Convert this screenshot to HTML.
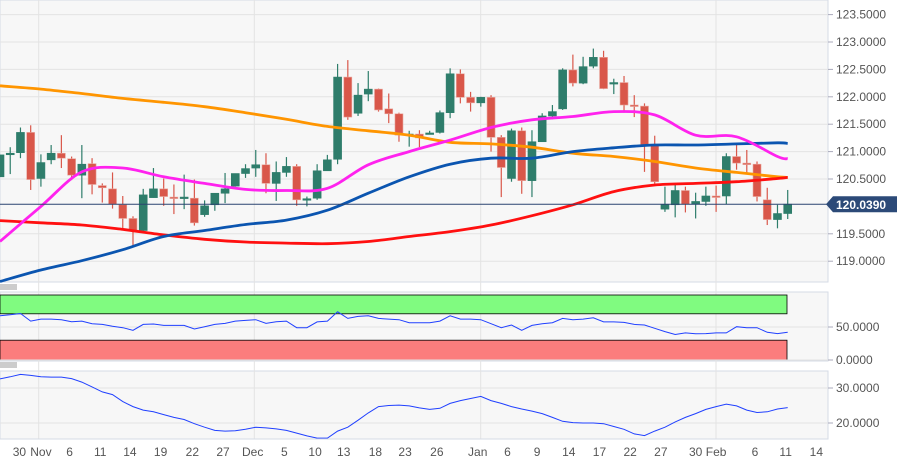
<!DOCTYPE html>
<html><head><meta charset="utf-8"><style>
body{margin:0;background:#fff;}
svg{display:block;font-family:"Liberation Sans",sans-serif;}
</style></head><body>
<svg id="chart" width="897" height="472" viewBox="0 0 897 472" xmlns="http://www.w3.org/2000/svg"></svg>
<script>
const opens=[120.54,120.97,120.98,121.35,120.51,120.85,120.97,120.87,120.57,120.78,120.38,120.32,120.03,119.78,119.56,120.16,120.32,120.17,120.17,120.15,119.85,120.03,120.24,120.37,120.60,120.70,120.76,120.42,120.62,120.73,120.14,120.15,120.65,120.86,122.36,121.70,122.05,122.14,121.78,121.69,121.32,121.32,121.34,121.35,121.71,122.42,121.99,121.89,121.99,121.26,120.51,121.38,120.47,121.18,121.65,121.78,122.49,122.25,122.56,122.72,122.26,122.26,121.85,121.83,121.12,119.95,120.03,120.29,120.04,120.09,120.19,120.19,120.91,120.79,120.77,120.12,119.76,119.87];
const closes=[120.94,120.97,121.35,120.49,120.80,120.97,120.88,120.57,120.77,120.40,120.34,120.04,119.78,119.56,120.21,120.32,120.18,120.16,120.17,119.70,120.01,120.24,120.32,120.60,120.69,120.76,120.42,120.62,120.73,120.12,120.14,120.65,120.85,122.36,121.63,122.03,122.14,121.76,121.69,121.30,121.32,121.25,121.34,121.71,122.42,121.99,121.89,121.99,121.26,120.71,121.38,120.47,121.18,121.65,121.73,122.49,122.25,122.55,122.72,122.15,122.26,121.85,121.83,121.12,120.45,120.03,120.29,120.04,120.09,120.19,120.18,120.91,120.79,120.77,120.18,119.76,119.87,120.04];
const highs=[120.94,121.08,121.44,121.48,120.95,121.12,121.30,120.91,121.12,120.88,120.42,120.62,120.19,119.82,120.32,120.70,120.51,120.40,120.58,120.49,120.11,120.24,120.61,120.60,120.77,121.03,120.97,120.82,120.90,120.77,120.18,120.77,120.94,122.60,122.67,122.25,122.47,122.15,122.06,121.71,121.38,121.39,121.38,121.75,122.52,122.50,122.09,122.00,122.03,121.30,121.42,121.44,121.39,121.70,121.85,122.52,122.77,122.73,122.88,122.84,122.33,122.38,122.03,121.88,121.29,120.36,120.41,120.36,120.25,120.36,120.38,120.97,121.13,121.03,120.82,120.34,120.03,120.30];
const lows=[120.54,120.59,120.88,120.30,120.36,120.77,120.70,120.48,120.15,120.22,120.07,119.96,119.59,119.26,119.54,120.16,120.01,119.86,119.95,119.65,119.81,119.92,120.06,120.36,120.52,120.54,120.24,120.10,120.54,120.01,120.00,120.12,120.77,120.77,121.58,121.65,121.92,121.73,121.52,121.18,121.09,121.08,121.32,121.33,121.61,121.88,121.73,121.82,121.00,120.17,120.45,120.23,120.17,121.18,121.59,121.76,122.19,122.23,122.52,122.14,122.05,121.71,121.63,120.63,120.41,119.90,119.80,119.89,119.78,120.01,119.90,120.04,120.67,120.60,120.09,119.66,119.60,119.77];
const maIndex=[1,5,9,13,17,21,25,29,33,37,41,45,49,53,57,61,65,69,73,77,78];
const ma200=[122.20,122.14,122.06,121.97,121.90,121.82,121.71,121.59,121.46,121.38,121.30,121.17,121.14,121.08,120.97,120.91,120.82,120.70,120.62,120.54,120.53];
const ma100=[119.74,119.70,119.66,119.58,119.48,119.40,119.35,119.33,119.32,119.36,119.45,119.54,119.66,119.83,120.03,120.27,120.39,120.42,120.45,120.51,120.53];
const ma50=[118.63,118.84,119.01,119.21,119.45,119.56,119.67,119.75,119.93,120.24,120.54,120.77,120.88,120.88,121.00,121.07,121.12,121.12,121.14,121.16,121.15];
const ma20=[119.36,120.00,120.63,120.70,120.54,120.42,120.31,120.29,120.33,120.76,121.00,121.21,121.44,121.58,121.64,121.73,121.67,121.30,121.27,120.91,120.87];
const rsi=[67,68.5,70.5,59,62,62,61,58,59,55,54,51,49,45,54,54.5,52.5,52.5,52.5,47,50.5,54,55.5,59,60,61,55.5,58,59,49,49,57.7,59,73,63,66,67,63,62,61,56.5,56.5,56.5,59,67,62,62,61,55,49,53,45,52.5,55,56.5,63,61,62,64,57.7,57.7,57,54,53,48,43,38.6,41,39.7,40,41,41,50.5,49,49,42,40,42];
const adx=[32.6,33.2,33.9,33.6,33.2,33.1,33.1,32.7,31.7,30.3,28.9,28.1,26.1,24.7,23.7,23.2,22.4,21.6,21.0,19.8,18.8,17.9,17.7,17.8,18.2,18.8,18.6,18.3,17.9,17.1,16.3,15.7,15.7,17.7,18.8,20.8,22.9,24.7,25.0,25.1,24.9,24.3,23.9,24.2,25.6,26.4,27.0,27.6,26.4,25.6,24.7,24.0,23.4,22.7,21.6,20.5,20.1,20.0,20.0,19.8,19.0,18.2,16.9,16.4,17.7,18.8,20.3,21.6,22.7,23.9,24.7,25.4,24.9,23.7,23.0,23.2,24.0,24.4];
const priceTicks=[123.5,123.0,122.5,122.0,121.5,121.0,120.5,119.5,119.0];
const rsiTicks=[50,0];
const adxTicks=[30,20];
const dateLabels=["30","Nov","6","11","14","19","22","27","Dec","5","10","13","18","23","26","Jan","6","9","14","17","22","27","30","Feb","6","11","14"];
const dateSlots=[2.9,5,7.8,10.8,13.7,16.7,19.8,22.8,25.7,28.8,31.8,34.6,37.7,40.6,43.7,47.7,50.6,53.5,56.6,59.6,62.6,65.6,69,71,74.8,77.8,80.8];
const lastPrice=120.039;

const NS="http://www.w3.org/2000/svg";
const svg=document.getElementById('chart');
function el(t,a,p){const e=document.createElementNS(NS,t);for(const k in a)e.setAttribute(k,a[k]);(p||svg).appendChild(e);return e;}
const PR=828;
const x=i=>(i-1)*10.23;
const y=v=>42+(123-v)*54.8;
const yr=v=>360-v*0.66;
const ya=v=>388+(30-v)*3.5;

const bg1=el('rect',{x:0,y:0,width:PR,height:282,fill:'#f7f7f7',stroke:'#d6dbe6'});


const bg2=el('rect',{x:0,y:292,width:PR,height:69,fill:'#f7f7f7',stroke:'#d6dbe6'});


const bg3=el('rect',{x:0,y:371,width:PR,height:68,fill:'#f7f7f7',stroke:'#d6dbe6'});



[38.7,254.3,480.7,716].forEach(gx=>{
  const g=el('line',{x1:gx,x2:gx,y1:0,y2:439,stroke:'#e3e3e3'});
  
  
});
priceTicks.forEach(v=>{
  const g=el('line',{x1:0,x2:PR,y1:y(v),y2:y(v),stroke:'#e3e3e3'});
  
  
  el('line',{x1:PR,x2:PR+5,y1:y(v),y2:y(v),stroke:'#aab'});
  const t=el('text',{x:836,y:y(v)+4,'font-size':12,fill:'#555'});
  t.textContent=v.toFixed(4);
  
  
});
const gb=el('rect',{x:0,y:yr(100)+1,width:787,height:yr(70)-yr(100)-1,fill:'#80fb80',stroke:'#000','stroke-width':0.8});


const rb=el('rect',{x:0,y:yr(30),width:787,height:yr(0)-yr(30),fill:'#fb7d7d',stroke:'#000','stroke-width':0.8});


rsiTicks.forEach(v=>{
  el('line',{x1:0,x2:PR,y1:yr(v),y2:yr(v),stroke:'#e3e3e3'});
  el('line',{x1:PR,x2:PR+5,y1:yr(v),y2:yr(v),stroke:'#aab'});
  const t=el('text',{x:836,y:yr(v)+4,'font-size':12,fill:'#555'});
  t.textContent=v.toFixed(4);
  
  
});
adxTicks.forEach(v=>{
  el('line',{x1:0,x2:PR,y1:ya(v),y2:ya(v),stroke:'#e3e3e3'});
  el('line',{x1:PR,x2:PR+5,y1:ya(v),y2:ya(v),stroke:'#aab'});
  const t=el('text',{x:836,y:ya(v)+4,'font-size':12,fill:'#555'});
  t.textContent=v.toFixed(4);
  
  
});
opens.forEach((o,k)=>{
  const i=k+1,c=closes[k],up=c>=o,col=up?'#2e7d6b':'#d9574a';
  const g=el('g',{});
  
  
  el('line',{x1:x(i),x2:x(i),y1:y(highs[k]),y2:y(lows[k]),stroke:col,'stroke-width':1.2},g);
  const t=Math.min(y(o),y(c)),h=Math.max(1.5,Math.abs(y(o)-y(c)));
  el('rect',{x:x(i)-4,y:t,width:8,height:h,fill:col,stroke:up?'#2e7d6b':'#e8a59c','stroke-width':0.6},g);
});
function smoothPath(P){
  let d='M'+P[0][0].toFixed(1)+','+P[0][1].toFixed(1);
  for(let k=0;k<P.length-1;k++){
    const p0=P[Math.max(0,k-1)],p1=P[k],p2=P[k+1],p3=P[Math.min(P.length-1,k+2)];
    const c1=[p1[0]+(p2[0]-p0[0])/6,p1[1]+(p2[1]-p0[1])/6];
    const c2=[p2[0]-(p3[0]-p1[0])/6,p2[1]-(p3[1]-p1[1])/6];
    d+=' C'+c1.map(n=>n.toFixed(1)).join(',')+' '+c2.map(n=>n.toFixed(1)).join(',')+' '+p2[0].toFixed(1)+','+p2[1].toFixed(1);
  }
  return d;
}
function maLine(arr,color,name){
  const P=arr.map((v,k)=>[x(maIndex[k]),y(v)]);
  const p=el('path',{d:smoothPath(P),fill:'none',stroke:color,'stroke-width':2.8,'stroke-linejoin':'round'});
  
  
}
maLine(ma200,'#ff9500','sma-200-line');
maLine(ma100,'#ff1010','sma-100-line');
maLine(ma50,'#0b55b0','sma-50-line');
maLine(ma20,'#ff22ee','sma-20-line');
const lp=el('line',{x1:0,x2:PR,y1:y(lastPrice),y2:y(lastPrice),stroke:'#2a4470','stroke-width':1});


const lbl=el('polygon',{points:`826,${y(lastPrice)} 833,${y(lastPrice)-8} 897,${y(lastPrice)-8} 897,${y(lastPrice)+8} 833,${y(lastPrice)+8}`,fill:'#2c4a78'});


const lt=el('text',{x:836,y:y(lastPrice)+4.5,'font-size':12,'font-weight':'bold',fill:'#fff'});
lt.textContent=lastPrice.toFixed(4);


const rp=el('polyline',{points:rsi.map((v,k)=>x(k+1).toFixed(1)+','+yr(v).toFixed(1)).join(' '),fill:'none',stroke:'#2040ff','stroke-width':1});


const ap=el('polyline',{points:adx.map((v,k)=>x(k+1).toFixed(1)+','+ya(v).toFixed(1)).join(' '),fill:'none',stroke:'#2040ff','stroke-width':1});


[287,365].forEach(hy=>{
  const g=el('g',{});
  
  
  for(let j=0;j<3;j++)el('line',{x1:0,x2:17,y1:hy-2+j*2,y2:hy-2+j*2,stroke:'#777','stroke-width':0.8},g);
});
el('line',{x1:0,x2:PR,y1:439,y2:439,stroke:'#d6dbe6'});
dateLabels.forEach((d,k)=>{
  const t=el('text',{x:x(dateSlots[k]),y:456,'font-size':12,fill:'#555','text-anchor':'middle'});
  t.textContent=d;
  
  
});
</script>
</body></html>
